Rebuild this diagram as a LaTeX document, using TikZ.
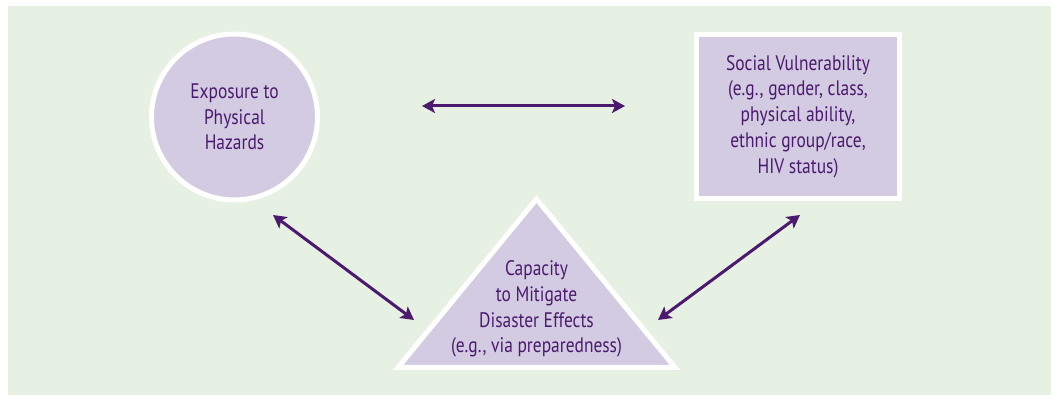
\documentclass[tikz,border=0pt]{standalone}
\usepackage{fontspec}
\setmainfont{PT Sans}[FakeStretch=0.83]
\usetikzlibrary{arrows.meta,positioning}
\definecolor{mint}{HTML}{E6F0E3}
\definecolor{lilac}{HTML}{D3CBE1}
\definecolor{plum}{HTML}{4B1A6E}

\begin{document}
\begin{tikzpicture}[x=1pt,y=1pt,
  panel/.style={fill=lilac,draw=white,line width=5pt},
  lbl/.style={text=plum,align=center,font=\fontsize{21}{25.7}\selectfont},
  link/.style={plum,line width=3pt,{Stealth[length=13pt,width=14pt,inset=3pt]}-{Stealth[length=13pt,width=14pt,inset=3pt]}}]
\useasboundingbox (0,0) rectangle (1051,395);
\fill[mint] (8,0) rectangle (1051,389);
% three factors
\node[panel,circle,minimum size=166pt,lbl] (expo) at (234.5,278) {Exposure to\\Physical\\Hazards};
\node[panel,minimum width=203pt,minimum height=164pt,lbl] (social) at (798,278.5)
  {Social Vulnerability\\(e.g., gender, class,\\physical ability,\\ethnic group/race,\\HIV status)};
\coordinate (capa-c) at (536.5,86);
\filldraw[panel] ([shift={(-138.5,-58.5)}]capa-c) -- ([shift={(0,110)}]capa-c)
  -- ([shift={(138.5,-58.5)}]capa-c) -- cycle;
\node[lbl] (capa) at (capa-c) {Capacity\\to Mitigate\\Disaster Effects\\(e.g., via preparedness)};
% arrow ends
\coordinate (expo-r) at ([shift={(102,11)}]expo.east);
\coordinate (soc-l) at ([shift={(-69,10.5)}]social.west);
\coordinate (expo-b) at ([shift={(38.5,-98)}]expo.center);
\coordinate (soc-b) at ([shift={(2,-98.5)}]social.center);
\coordinate (capa-l) at ([shift={(-122.5,-11)}]capa.center);
\coordinate (capa-r) at ([shift={(121.5,-11)}]capa.center);
\draw[link] (expo-r) -- (soc-l);
\draw[link] (expo-b) -- (capa-l);
\draw[link] (soc-b) -- (capa-r);
\end{tikzpicture}
\end{document}
